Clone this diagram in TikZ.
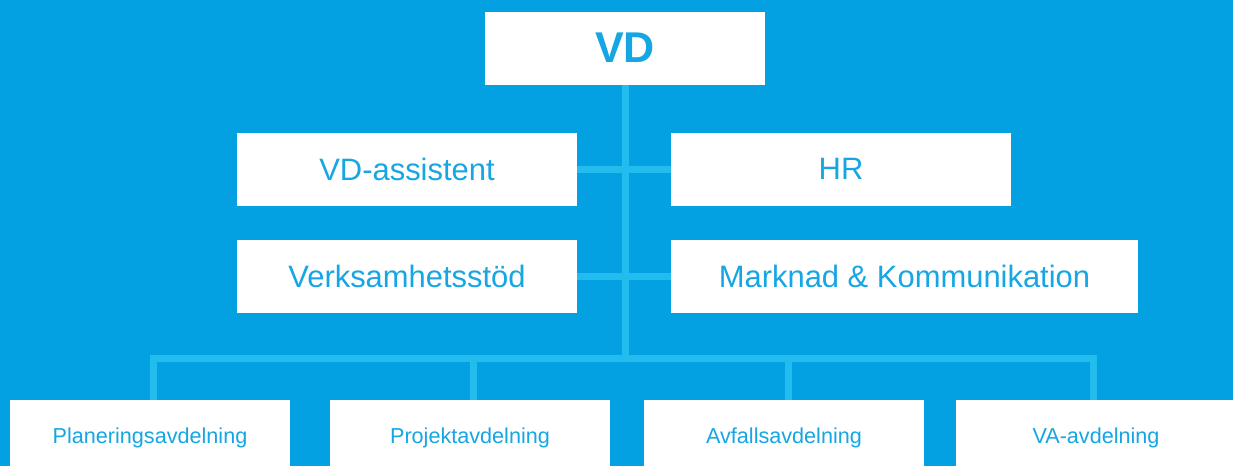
\documentclass[tikz,border=0pt]{standalone}
\usepackage{fontspec}
\setmainfont{Liberation Sans}
\usepackage{tikz}
\usetikzlibrary{positioning,calc}
\definecolor{bgblue}{RGB}{3,160,226}
\definecolor{lineblue}{RGB}{34,188,238}
\definecolor{textblue}{RGB}{22,166,227}

\begin{document}
\begin{tikzpicture}[
    node distance=1.88cm,
    box/.style={rectangle, fill=white, inner sep=0pt, outer sep=0pt, align=center, minimum width=6.8cm, minimum height=1.46cm, text=textblue, font=\fontsize{17.6}{20}\selectfont},
    top/.style={box, minimum width=5.6cm, font=\fontsize{24.5}{28}\selectfont\bfseries},
    unit/.style={box, minimum width=5.6cm, minimum height=1.52cm, font=\fontsize{12.3}{14}\selectfont},
    link/.style={draw=lineblue, line width=0.14cm}
]
    \clip (0,0) rectangle (24.66,-9.32);
    \fill[bgblue] (0,0) rectangle (24.66,-9.32);

    \node[top] (vd) at (12.5,-0.96) {VD};
    \node[box] (assist) at (8.14,-3.38) {VD-assistent};
    \node[box, right=of assist] (hr) {HR};
    \node[box, below=0.68cm of assist] (verks) {Verksamhetsstöd};
    \node[box, minimum width=9.34cm, right=of verks] (mark) {Marknad \& Kommunikation};

    \node[unit] (plan) at (3.0,-8.76) {Planeringsavdelning};
    \node[unit, right=0.8cm of plan] (proj) {Projektavdelning};
    \node[unit, right=0.68cm of proj] (avf) {Avfallsavdelning};
    \node[unit, right=0.64cm of avf] (va) {VA-avdelning};

    \coordinate (bus) at ($(plan.north)+(0,0.84)$);

    \draw[link] (vd.south) -- (vd.south |- bus);
    \draw[link] (assist) -- (hr);
    \draw[link] (verks) -- (mark);
    \draw[link] ([xshift=0.06cm]plan.north) -- ++(0,0.84) -| ([xshift=-0.06cm]va.north);
    \draw[link] ([xshift=0.06cm]proj.north) -- ++(0,0.84);
    \draw[link] ([xshift=0.08cm]avf.north) -- ++(0,0.84);
\end{tikzpicture}
\end{document}
